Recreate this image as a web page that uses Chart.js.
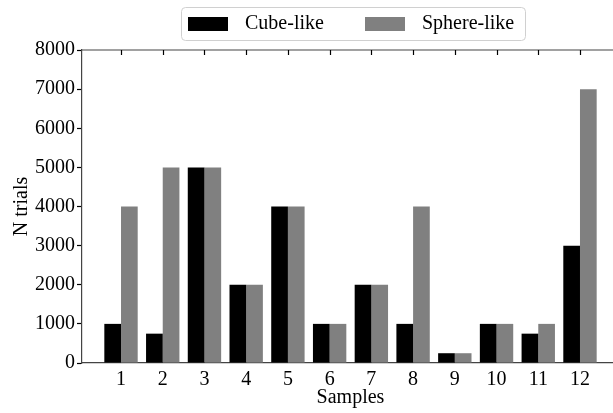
<!DOCTYPE html>
<html>
<head>
<meta charset="utf-8">
<script src="https://cdn.jsdelivr.net/npm/chart.js@4"></script>
<style>
  body { margin: 0; background: #fff; overflow: hidden; }
</style>
</head>
<body>
<canvas id="graf" width="630" height="413"></canvas>
<script>
// data lest av figuren
const prover = [1, 2, 3, 4, 5, 6, 7, 8, 9, 10, 11, 12];
const kubeLik = [1000, 750, 5000, 2000, 4000, 1000, 2000, 1000, 250, 1000, 750, 3000];
const kuleLik = [4000, 5000, 5000, 2000, 4000, 1000, 2000, 4000, 250, 1000, 1000, 7000];
const yTicks = [0, 1000, 2000, 3000, 4000, 5000, 6000, 7000, 8000];

const skrift = "'Liberation Serif', serif";
const strekFarge = '#444';

// toppkant, indre ticks oppe og legende
const rammePlugin = {
    id: 'ramme',
    afterDraw(chart) {
        const ctx = chart.ctx;
        const a = chart.chartArea;
        const x = chart.scales.x;
        ctx.save();
        ctx.strokeStyle = strekFarge;
        ctx.lineWidth = 1.2;
        ctx.beginPath();
        ctx.moveTo(a.left, a.top);
        ctx.lineTo(a.right, a.top);
        ctx.stroke();

        ctx.strokeStyle = '#000';
        prover.forEach(p => {
            const px = Math.round(x.getPixelForValue(p)) + 0.5;
            ctx.beginPath();
            ctx.moveTo(px, a.top);
            ctx.lineTo(px, a.top + 5);
            ctx.stroke();
        });

        // legende
        const sett = chart.data.datasets;
        const midt = (a.left + a.right) / 2;
        const bx = Math.round(midt - 170), by = 7, bw = 344, bh = 33;
        ctx.strokeStyle = '#d0d0d0';
        ctx.lineWidth = 1;
        ctx.beginPath();
        ctx.roundRect(bx + 0.5, by + 0.5, bw, bh, 4);
        ctx.fillStyle = 'rgba(255,255,255,0.8)';
        ctx.fill();
        ctx.stroke();
        ctx.font = '20px ' + skrift;
        ctx.textBaseline = 'middle';
        const posisjoner = [bx + 7, bx + 184];
        sett.forEach((d, i) => {
            ctx.fillStyle = d.backgroundColor;
            ctx.fillRect(posisjoner[i], by + 10, 40, 14);
            ctx.fillStyle = '#000';
            ctx.fillText(d.label, posisjoner[i] + 57, by + 17);
        });
        ctx.restore();
    }
};

new Chart(document.getElementById('graf'), {
    type: 'bar',
    data: {
        datasets: [{
            label: 'Cube-like',
            data: prover.map((p, i) => ({ x: p, y: kubeLik[i] })),
            backgroundColor: '#000000',
            barPercentage: 1,
            categoryPercentage: 0.8
        }, {
            label: 'Sphere-like',
            data: prover.map((p, i) => ({ x: p, y: kuleLik[i] })),
            backgroundColor: '#808080',
            barPercentage: 1,
            categoryPercentage: 0.8
        }]
    },
    options: {
        responsive: false,
        animation: false,
        devicePixelRatio: 1,
        // plottet fortsetter litt forbi høyre kant, som i originalen
        layout: { padding: { top: 50, right: 11, left: 0, bottom: 0 } },
        plugins: {
            legend: { display: false },
            tooltip: { enabled: false }
        },
        scales: {
            x: {
                type: 'linear',
                offset: false,
                min: 0.065,
                max: 12.935,
                afterBuildTicks: s => { s.ticks = prover.map(v => ({ value: v })); },
                afterFit: s => { s.height = 50; },
                grid: { display: false, drawTicks: false },
                border: { display: true, color: strekFarge, width: 1.2 },
                ticks: {
                    color: '#000',
                    font: { family: skrift, size: 20 },
                    padding: 5,
                    maxRotation: 0,
                    autoSkip: false,
                    callback: v => String(v)
                },
                title: {
                    display: true,
                    text: 'Samples',
                    color: '#000',
                    font: { family: skrift, size: 20 },
                    padding: { top: 0, bottom: 3 }
                }
            },
            y: {
                min: 0,
                max: 8000,
                afterBuildTicks: s => { s.ticks = yTicks.map(v => ({ value: v })); },
                afterFit: s => { s.width = 82; },
                grid: {
                    drawOnChartArea: false,
                    drawTicks: true,
                    tickLength: 5,
                    tickColor: '#000',
                    tickWidth: 1.2
                },
                border: { display: true, color: strekFarge, width: 1.2 },
                ticks: {
                    color: '#000',
                    font: { family: skrift, size: 20 },
                    padding: 2,
                    callback: v => String(v)
                },
                title: {
                    display: true,
                    text: 'N trials',
                    color: '#000',
                    font: { family: skrift, size: 20 },
                    padding: { top: 10, bottom: 2 }
                }
            }
        }
    },
    plugins: [rammePlugin]
});
</script>
</body>
</html>
